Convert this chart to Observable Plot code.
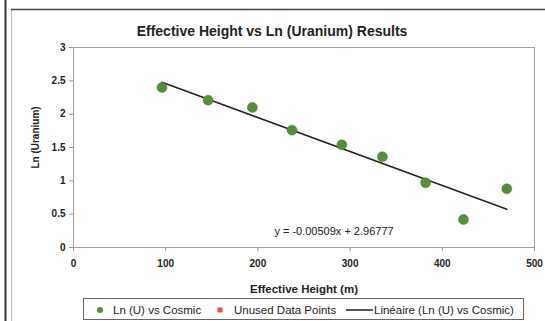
<!DOCTYPE html>
<html>
<head>
<meta charset="utf-8">
<script src="https://cdn.jsdelivr.net/npm/d3@7"></script>
<script src="https://cdn.jsdelivr.net/npm/@observablehq/plot@0.6"></script>
<style>
  html, body { margin: 0; padding: 0; background: #fff; }
  #chart { position: relative; width: 545px; height: 321px; }
  svg { font-family: "Liberation Sans", Arial, sans-serif; }
</style>
</head>
<body>
<div id="chart"></div>
<script>
const heights = [96, 146, 194, 237, 291, 335, 382, 423, 470];
const lnU     = [2.40, 2.21, 2.10, 1.76, 1.54, 1.36, 0.97, 0.42, 0.88];
const slope = -0.00509;
const intercept = 2.96777;
const xTicks = [0, 100, 200, 300, 400, 500];
const yTicks = [0, 0.5, 1, 1.5, 2, 2.5, 3];
const title = "Effective Height vs Ln (Uranium) Results";
const xLabel = "Effective Height (m)";
const yLabel = "Ln (Uranium)";
const equation = "y = -0.00509x + 2.96777";
const legendLabels = ["Ln (U) vs Cosmic", "Unused Data Points", "Linéaire (Ln (U) vs Cosmic)"];

const points = heights.map((h, i) => ({x: h, y: lnU[i]}));
const xMin = d3.min(heights), xMax = d3.max(heights);
const trend = [xMin, xMax].map(x => ({x, y: slope * x + intercept}));

const W = 545, H = 321;
const chart = Plot.plot({
  width: W, height: H,
  marginLeft: 73, marginRight: 11, marginTop: 47, marginBottom: 74,
  x: {domain: [0, 500], ticks: xTicks},
  y: {domain: [0, 3], ticks: yTicks},
  style: {background: "#fff", fontFamily: "Liberation Sans, Arial, sans-serif"},
  marks: [
    Plot.frame({stroke: "#a0a0a0", strokeWidth: 1}),
    Plot.axisX({ticks: xTicks, tickSize: 4, tickPadding: 8, fontSize: 10, fontWeight: "bold", fill: "#222", stroke: "#999", label: null}),
    Plot.axisY({ticks: yTicks, tickSize: 4, tickPadding: 4, fontSize: 10, fontWeight: "bold", fill: "#222", stroke: "#999", label: null, tickFormat: d => String(d)}),
    Plot.line(trend, {x: "x", y: "y", stroke: "#222", strokeWidth: 1.6}),
    Plot.dot(points, {x: "x", y: "y", r: 5, fill: "#568c3b", stroke: "#4a7d31", strokeWidth: 0.5}),
    Plot.text([equation], {frameAnchor: "bottom", lineAnchor: "middle", dx: 30, dy: -16, text: d => d, fontSize: 11, fill: "#222"}),
    Plot.text([title], {frameAnchor: "top", lineAnchor: "middle", dx: -32, dy: -16, text: d => d, fontSize: 14, fontWeight: "bold", fill: "#222"}),
    Plot.text([xLabel], {frameAnchor: "bottom", lineAnchor: "middle", dy: 42, text: d => d, fontSize: 11.5, fontWeight: "bold", fill: "#222"}),
    Plot.text([yLabel], {frameAnchor: "left", textAnchor: "middle", lineAnchor: "middle", dx: -38, dy: -10, rotate: -90, text: d => d, fontSize: 10, fontWeight: "bold", fill: "#222"})
  ]
});
document.getElementById("chart").appendChild(chart);

// decorative chart border and legend
const svg = d3.select(chart);
svg.append("line").attr("x1", 5.5).attr("x2", 5.5).attr("y1", 0).attr("y2", H).attr("stroke", "#333").attr("stroke-width", 2);
svg.append("line").attr("x1", 11.5).attr("x2", 11.5).attr("y1", 9).attr("y2", H).attr("stroke", "#bbb").attr("stroke-width", 1);
svg.append("line").attr("x1", 11).attr("x2", W).attr("y1", 9.5).attr("y2", 9.5).attr("stroke", "#444").attr("stroke-width", 1.3);

const lg = svg.append("g").attr("font-size", 11.5).attr("text-anchor", "start");
lg.append("rect").attr("x", 83.5).attr("y", 298.5).attr("width", 440).attr("height", 21)
  .attr("fill", "#fff").attr("stroke", "#666").attr("stroke-width", 1);
lg.append("circle").attr("cx", 100).attr("cy", 310).attr("r", 3).attr("fill", "#568c3b");
lg.append("text").attr("x", 113).attr("y", 314).attr("fill", "#222").text(legendLabels[0]);
lg.append("rect").attr("x", 217.5).attr("y", 307.5).attr("width", 5).attr("height", 5).attr("fill", "#e8553a");
lg.append("text").attr("x", 234).attr("y", 314).attr("fill", "#222").text(legendLabels[1]);
lg.append("line").attr("x1", 346).attr("x2", 373).attr("y1", 310).attr("y2", 310).attr("stroke", "#222").attr("stroke-width", 1.5);
lg.append("text").attr("x", 374).attr("y", 314).attr("fill", "#222").text(legendLabels[2]);
</script>
</body>
</html>
